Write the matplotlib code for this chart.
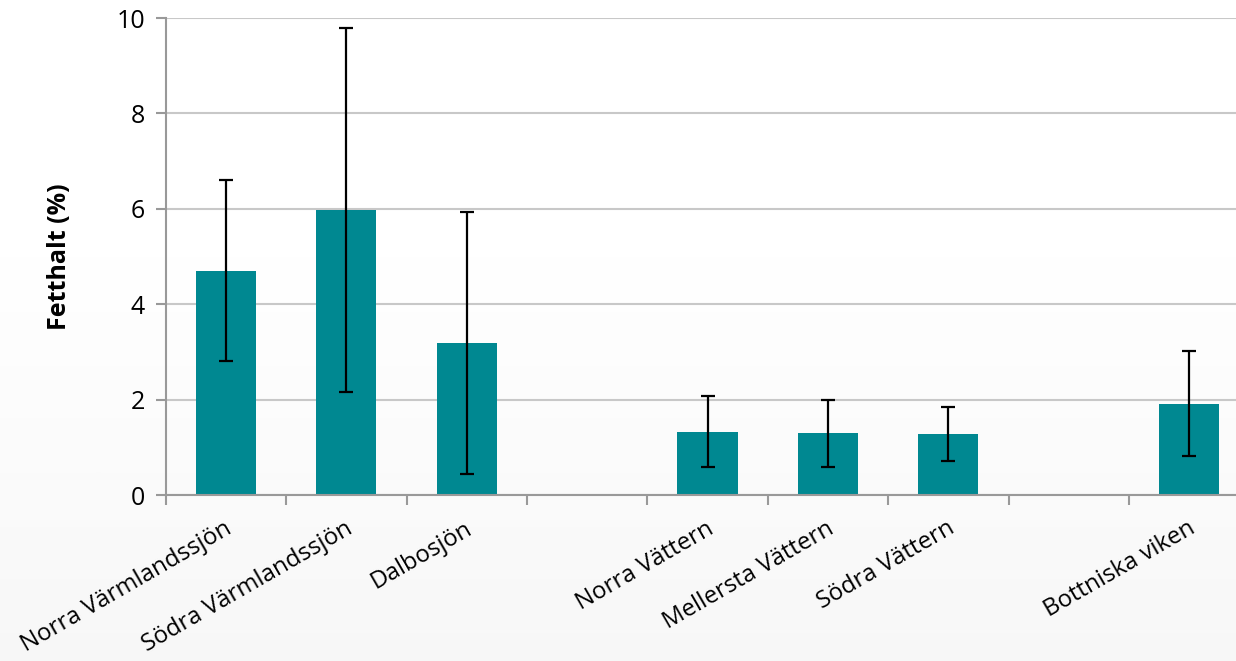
import matplotlib.pyplot as plt
import numpy as np

plt.rcParams['font.family'] = ['Open Sans', 'DejaVu Sans']

platser = ['Norra Värmlandssjön', 'Södra Värmlandssjön', 'Dalbosjön', '',
           'Norra Vättern', 'Mellersta Vättern', 'Södra Vättern', '',
           'Bottniska viken']
fetthalt = [4.70, 5.98, 3.19, np.nan, 1.33, 1.29, 1.28, np.nan, 1.91]
fel = [1.90, 3.82, 2.75, np.nan, 0.74, 0.70, 0.57, np.nan, 1.10]

fig = plt.figure(figsize=(12.36, 6.61), dpi=100)

# soft background gradient, white at top to light grey at bottom
bg = fig.add_axes([0, 0, 1, 1], zorder=-10)
grad = np.linspace(0, 1, 256).reshape(-1, 1)
grad = np.clip((grad - 0.35) / 0.65, 0, 1)
bg.imshow(grad, aspect='auto', cmap='Greys', vmin=0, vmax=16,
          extent=[0, 1, 0, 1], origin='upper')
bg.axis('off')

ax = fig.add_axes([0.1341, 0.2511, 0.8767, 0.7216])
ax.set_facecolor('none')

x = np.arange(len(platser))
ax.bar(x, fetthalt, width=0.5, color='#008891', zorder=2)
ax.errorbar(x, fetthalt, yerr=fel, fmt='none', ecolor='black',
            elinewidth=1.6, capsize=5, capthick=1.6, zorder=3)

ax.set_xlim(-0.5, len(platser) - 0.5)
ax.set_ylim(0, 10)
ax.set_yticks([0, 2, 4, 6, 8, 10])
ax.yaxis.grid(True, color='#c8c8c8', linewidth=1.5, zorder=0)
ax.set_axisbelow(True)

ax.set_xticks(np.arange(-0.5, len(platser), 1.0))
ax.set_xticklabels([])
ax.tick_params(axis='x', length=7, width=1.5, color='#999999')
ax.tick_params(axis='y', length=7, width=1.5, color='#999999',
               labelsize=18, pad=8)

for s in ['top', 'right']:
    ax.spines[s].set_visible(False)
for s in ['left', 'bottom']:
    ax.spines[s].set_color('#999999')
    ax.spines[s].set_linewidth(1.5)

for xi, namn in zip(x, platser):
    if namn:
        ax.annotate(namn, xy=(xi, 0), xycoords='data',
                    xytext=(3, -23), textcoords='offset points',
                    rotation=30, ha='right', va='center',
                    rotation_mode='anchor', fontsize=17.3)

ax.set_ylabel('Fetthalt (%)', fontsize=18, fontweight='bold', labelpad=32)

fig.savefig('out.png', dpi=100)
